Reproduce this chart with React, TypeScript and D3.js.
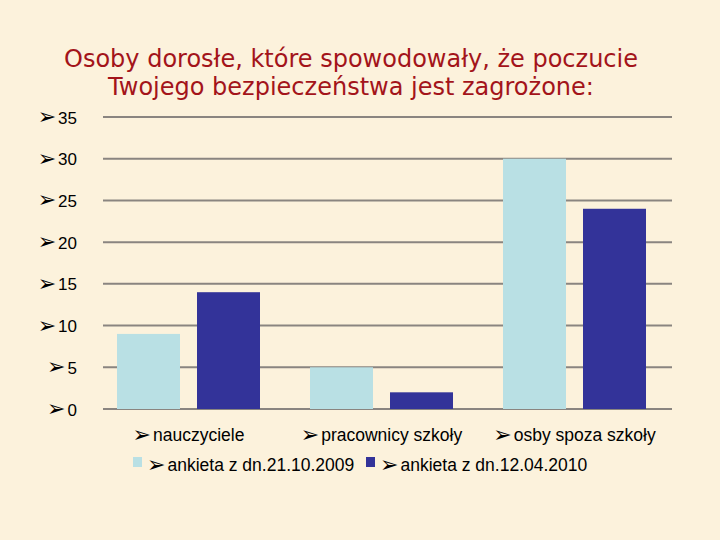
import { useEffect, useRef } from 'react';
import * as d3 from 'd3';

const categories = ['nauczyciele', 'pracownicy szkoły', 'osby spoza szkoły'];
const seriesNames = ['ankieta z dn.21.10.2009', 'ankieta z dn.12.04.2010'];
const survey2009 = [9, 5, 30];
const survey2010 = [14, 2, 24];
const yTicks = [0, 5, 10, 15, 20, 25, 30, 35];
const titleLines = [
  'Osoby dorosłe, które spowodowały, że poczucie',
  'Twojego bezpieczeństwa jest zagrożone:',
];

const colors = ['#b9e0e4', '#333399'];
const ARROW = '➢';

export default function App() {
  const ref = useRef<SVGSVGElement>(null);

  useEffect(() => {
    const node = ref.current;
    if (!node) return;
    const svg = d3.select(node);
    svg.selectAll('*').remove();

    const W = 720, H = 540;
    const font = 'Liberation Sans, Arial, sans-serif';
    const labelSize = 17.5;

    // background
    svg.append('rect').attr('width', W).attr('height', H).attr('fill', '#fcf2dc');

    // title
    svg
      .append('g')
      .attr('font-family', 'DejaVu Sans, Verdana, sans-serif')
      .attr('font-size', 24)
      .attr('fill', '#a3141a')
      .attr('text-anchor', 'middle')
      .selectAll('text')
      .data(titleLines)
      .join('text')
      .attr('x', 351)
      .attr('y', (_, i) => 67 + i * 28)
      .text((d) => d);

    const y = d3.scaleLinear().domain([0, 35]).range([409, 117]);
    const x0 = d3
      .scaleBand<string>()
      .domain(categories)
      .range([92, 671])
      .paddingInner(50 / 193)
      .paddingOuter(25 / 193);
    const x1 = d3
      .scaleBand<number>()
      .domain([0, 1])
      .range([0, x0.bandwidth()])
      .paddingInner(0.2125);

    // gridlines
    svg
      .append('g')
      .selectAll('line')
      .data(yTicks)
      .join('line')
      .attr('x1', 103)
      .attr('x2', 672)
      .attr('y1', (d) => y(d))
      .attr('y2', (d) => y(d))
      .attr('stroke', '#8a8580')
      .attr('stroke-width', 2);

    // text with the arrow bullet in front of it
    const bulleted = (
      parent: d3.Selection<SVGGElement, unknown, null, undefined>,
      text: string,
      x: number,
      baseline: number,
      anchor: 'start' | 'middle' | 'end',
      size: number,
    ) => {
      const t = parent
        .append('text')
        .attr('x', x)
        .attr('y', baseline)
        .attr('text-anchor', anchor)
        .attr('font-family', font)
        .attr('font-size', size)
        .attr('fill', '#000');
      t.append('tspan')
        .attr('font-family', 'DejaVu Sans, sans-serif')
        .attr('font-size', 22)
        .attr('dy', 0.5)
        .text(ARROW);
      t.append('tspan').attr('dx', 2).attr('dy', -0.5).text(text);
    };

    // y tick labels
    const yAxis = svg.append('g');
    yTicks.forEach((v) => bulleted(yAxis, String(v), 77, y(v) + 6.5, 'end', 17));

    // bars
    const series = [survey2009, survey2010];
    const groups = svg
      .append('g')
      .selectAll('g')
      .data(categories)
      .join('g')
      .attr('transform', (d) => `translate(${x0(d)},0)`);
    groups
      .selectAll('rect')
      .data((_, ci) => series.map((s, si) => ({ si, v: s[ci] })))
      .join('rect')
      .attr('x', (d) => x1(d.si)!)
      .attr('width', x1.bandwidth())
      .attr('y', (d) => y(d.v))
      .attr('height', (d) => y(0) - y(d.v))
      .attr('fill', (d) => colors[d.si]);

    // category labels
    const xAxis = svg.append('g');
    categories.forEach((c) =>
      bulleted(xAxis, c, x0(c)! + x0.bandwidth() / 2, 441, 'middle', labelSize),
    );

    // legend
    const legendX = [133, 366];
    const legend = svg.append('g');
    seriesNames.forEach((name, i) => {
      legend
        .append('rect')
        .attr('x', legendX[i])
        .attr('y', 457)
        .attr('width', 9)
        .attr('height', 10)
        .attr('fill', colors[i]);
      bulleted(legend, name, legendX[i] + 14, 471, 'start', labelSize);
    });
  }, []);

  return (
    <div style={{ position: 'fixed', left: 0, top: 0 }}>
      <svg ref={ref} width={720} height={540} />
    </div>
  );
}
